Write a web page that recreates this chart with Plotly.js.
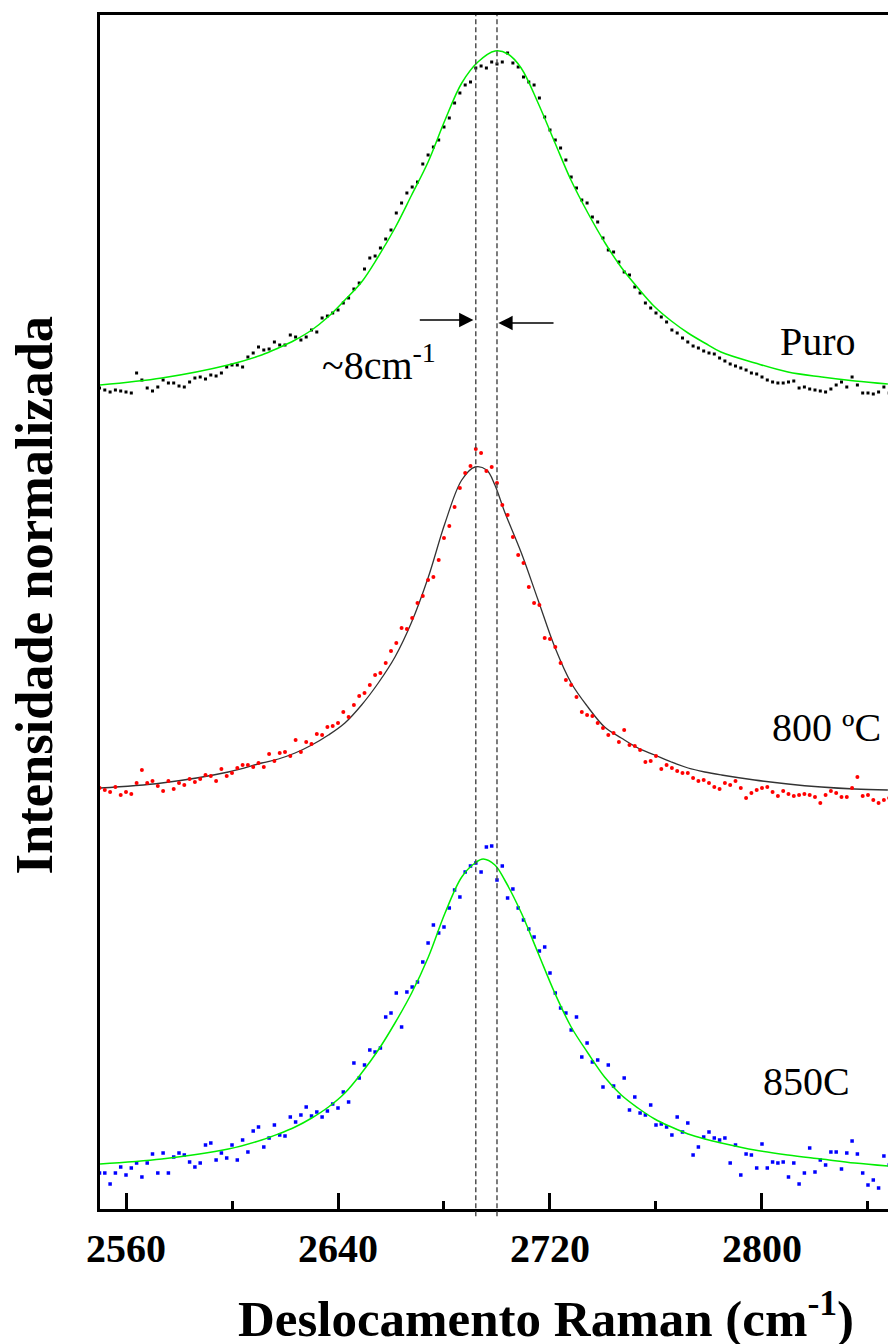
<!DOCTYPE html>
<html>
<head>
<meta charset="utf-8">
<script src="https://cdn.plot.ly/plotly-3.0.1.min.js"></script>
<style>html,body{margin:0;padding:0;background:#fff;}#chart{width:888px;height:1344px;}</style>
</head>
<body>
<div id="chart"></div>
<script>
// Raman shift (cm-1) shared by the three measured spectra
const ramanShift = [
2550,2552,2554,2556,2558,2560,2562,2564,2566,2568,
2570,2572,2574,2576,2578,2580,2582,2584,2586,2588,
2590,2592,2594,2596,2598,2600,2602,2604,2606,2608,
2610,2612,2614,2616,2618,2620,2622,2624,2626,2628,
2630,2632,2634,2636,2638,2640,2642,2644,2646,2648,
2650,2652,2654,2656,2658,2660,2662,2664,2666,2668,
2670,2672,2674,2676,2678,2680,2682,2684,2686,2688,
2690,2692,2694,2696,2698,2700,2702,2704,2706,2708,
2710,2712,2714,2716,2718,2720,2722,2724,2726,2728,
2730,2732,2734,2736,2738,2740,2742,2744,2746,2748,
2750,2752,2754,2756,2758,2760,2762,2764,2766,2768,
2770,2772,2774,2776,2778,2780,2782,2784,2786,2788,
2790,2792,2794,2796,2798,2800,2802,2804,2806,2808,
2810,2812,2814,2816,2818,2820,2822,2824,2826,2828,
2830,2832,2834,2836,2838,2840,2842,2844,2846,2848];

// Normalized intensities (stacked, arbitrary units)
const puroData = [
8.21,8.19,8.17,8.19,8.18,8.17,8.16,8.36,8.29,8.21,
8.18,8.22,8.29,8.26,8.26,8.23,8.22,8.27,8.31,8.32,
8.30,8.34,8.33,8.36,8.42,8.44,8.44,8.42,8.52,8.56,
8.62,8.59,8.60,8.67,8.64,8.64,8.74,8.72,8.69,8.72,
8.79,8.77,8.91,8.93,8.96,8.99,9.06,9.11,9.20,9.26,
9.40,9.51,9.53,9.61,9.70,9.79,9.96,10.06,10.16,10.22,
10.27,10.45,10.54,10.62,10.69,10.82,10.91,11.06,11.16,11.24,
11.27,11.41,11.43,11.41,11.47,11.45,11.47,11.56,11.46,11.42,
11.32,11.27,11.24,11.11,10.92,10.79,10.69,10.61,10.49,10.32,
10.21,10.09,10.06,9.92,9.87,9.71,9.59,9.57,9.47,9.37,
9.34,9.22,9.16,9.06,9.01,8.96,8.92,8.87,8.79,8.76,
8.71,8.67,8.63,8.61,8.58,8.56,8.55,8.51,8.48,8.45,
8.43,8.41,8.39,8.36,8.35,8.32,8.29,8.27,8.26,8.26,
8.27,8.28,8.21,8.22,8.20,8.19,8.18,8.17,8.20,8.24,
8.27,8.22,8.32,8.24,8.16,8.16,8.15,8.17,8.22,8.16];

const t800Data = [
4.21,4.19,4.17,4.22,4.14,4.17,4.15,4.26,4.39,4.26,
4.28,4.23,4.18,4.28,4.20,4.26,4.24,4.30,4.27,4.30,
4.34,4.33,4.28,4.40,4.33,4.36,4.41,4.44,4.44,4.42,
4.46,4.42,4.55,4.48,4.56,4.57,4.53,4.69,4.57,4.67,
4.65,4.75,4.74,4.82,4.83,4.86,4.97,4.92,5.04,5.13,
5.16,5.24,5.34,5.36,5.46,5.58,5.66,5.81,5.80,5.91,
6.06,6.13,6.29,6.32,6.49,6.71,6.83,7.02,7.21,7.36,
7.43,7.60,7.56,7.38,7.42,7.26,7.04,6.94,6.72,6.54,
6.46,6.22,6.06,6.04,5.71,5.70,5.62,5.46,5.29,5.24,
5.12,4.97,4.94,4.93,4.86,4.81,4.74,4.76,4.67,4.79,
4.64,4.63,4.59,4.47,4.48,4.53,4.40,4.44,4.41,4.38,
4.36,4.36,4.31,4.28,4.29,4.26,4.22,4.20,4.26,4.24,
4.28,4.21,4.11,4.16,4.19,4.21,4.22,4.17,4.13,4.18,
4.15,4.13,4.14,4.15,4.14,4.12,4.06,4.14,4.18,4.16,
4.12,4.12,4.21,4.32,4.13,4.14,4.09,4.06,4.09,4.11];

const t850Data = [
0.36,0.36,0.25,0.36,0.42,0.34,0.41,0.46,0.32,0.46,
0.55,0.36,0.56,0.36,0.52,0.56,0.54,0.47,0.42,0.46,
0.64,0.66,0.49,0.56,0.51,0.64,0.49,0.69,0.57,0.78,
0.82,0.62,0.71,0.84,0.74,0.73,0.92,0.87,0.94,1.02,
0.93,0.97,0.92,0.98,1.05,1.01,1.17,1.07,1.46,1.31,
1.44,1.59,1.57,1.61,1.92,1.96,2.16,1.82,2.17,2.22,
2.27,2.47,2.66,2.84,2.76,2.82,3.01,3.19,3.12,3.37,
3.43,3.46,3.37,3.62,3.63,3.29,3.43,3.11,3.20,3.01,
2.89,2.80,2.72,2.58,2.62,2.36,2.16,2.01,1.96,1.79,
1.92,1.52,1.66,1.47,1.49,1.22,1.44,1.23,1.12,1.31,
0.99,1.12,0.96,0.94,1.04,0.84,0.85,0.82,0.74,0.92,
0.77,0.86,0.54,0.62,0.72,0.77,0.71,0.69,0.71,0.46,
0.64,0.34,0.55,0.54,0.41,0.65,0.41,0.47,0.46,0.47,
0.32,0.46,0.25,0.36,0.61,0.37,0.49,0.44,0.57,0.57,
0.40,0.56,0.68,0.55,0.36,0.24,0.29,0.21,0.53,0.44];

// Fitted curves
const puroFitX = [2550.2,2573.5,2598.5,2611.2,2617.5,2623.8,2630.1,2636.2,2642.6,2648.9,2655.1,2661.5,2667.8,2674.0,2680.4,2686.7,2692.8,2699.3,2704.1,2709.1,2715.5,2721.9,2727.9,2734.3,2740.8,2746.8,2753.2,2759.6,2765.8,2772.1,2778.4,2784.5,2797.4,2809.8,2822.6,2835.1,2847.5];
const puroFitY = [8.24,8.31,8.44,8.54,8.61,8.69,8.79,8.92,9.09,9.27,9.52,9.81,10.14,10.47,10.89,11.26,11.47,11.58,11.55,11.41,11.06,10.66,10.29,9.96,9.66,9.42,9.21,9.02,8.88,8.76,8.66,8.57,8.46,8.37,8.32,8.28,8.25];

const t800FitX = [2550.2,2573.5,2598.6,2611.2,2617.5,2623.8,2630.1,2636.4,2642.6,2648.9,2655.2,2661.5,2667.8,2674.1,2680.4,2686.7,2691.7,2696.1,2699.2,2702.9,2709.2,2715.5,2721.8,2728.0,2734.3,2740.6,2746.9,2753.2,2759.5,2765.8,2772.1,2778.4,2784.7,2797.2,2809.8,2822.4,2835.0,2847.5];
const t800FitY = [4.21,4.26,4.37,4.46,4.50,4.56,4.64,4.74,4.86,5.04,5.26,5.52,5.87,6.32,6.86,7.29,7.42,7.39,7.24,6.97,6.56,6.09,5.62,5.26,5.02,4.82,4.71,4.61,4.54,4.47,4.41,4.37,4.34,4.29,4.25,4.22,4.20,4.19];

const t850FitX = [2550.2,2573.5,2598.6,2611.2,2617.5,2623.8,2630.1,2636.4,2642.6,2648.9,2655.2,2661.5,2667.8,2674.1,2680.4,2686.7,2691.7,2694.8,2699.2,2702.9,2709.2,2715.5,2721.8,2728.0,2734.3,2740.6,2746.9,2753.2,2759.5,2765.8,2772.1,2778.4,2784.7,2797.2,2809.8,2822.4,2835.0,2847.5];
const t850FitY = [0.45,0.50,0.60,0.69,0.75,0.82,0.91,1.02,1.16,1.36,1.59,1.86,2.16,2.52,2.96,3.32,3.46,3.50,3.44,3.29,2.96,2.56,2.16,1.82,1.56,1.32,1.14,1.01,0.90,0.82,0.75,0.70,0.66,0.59,0.54,0.50,0.46,0.43];

// Peak positions marked by dashed lines (~8 cm-1 apart)
const peakMarks = [2692, 2700];

const tickVals = [2560, 2640, 2720, 2800];
const tickText = ['2560', '2640', '2720', '2800'];

const serif = 'Liberation Serif, Times New Roman, serif';

const traces = [
  {x: ramanShift, y: puroData, mode: 'markers', type: 'scatter',
   marker: {symbol: 'square', size: 3, color: '#000000'}, name: 'Puro'},
  {x: puroFitX, y: puroFitY, mode: 'lines', type: 'scatter',
   line: {color: '#00ee00', width: 1.5, shape: 'spline', smoothing: 1}, name: 'Puro fit'},
  {x: t800FitX, y: t800FitY, mode: 'lines', type: 'scatter',
   line: {color: '#333333', width: 1.3, shape: 'spline', smoothing: 1}, name: '800 fit'},
  {x: ramanShift, y: t800Data, mode: 'markers', type: 'scatter',
   marker: {symbol: 'circle', size: 4, color: '#ff0000'}, name: '800 ºC'},
  {x: ramanShift, y: t850Data, mode: 'markers', type: 'scatter',
   marker: {symbol: 'square', size: 3.5, color: '#0000ff'}, name: '850C'},
  {x: t850FitX, y: t850FitY, mode: 'lines', type: 'scatter',
   line: {color: '#00ee00', width: 1.5, shape: 'spline', smoothing: 1}, name: '850 fit'}
];

const shapes = peakMarks.map(v => ({
  type: 'line', xref: 'x', yref: 'paper', x0: v, x1: v, y0: -0.006, y1: 1,
  line: {color: '#444444', width: 1.4, dash: '5px,3px'}
}));

const annotations = [
  {xref: 'x', yref: 'y', x: 2691.1, y: 8.89, ax: 2670.3, ay: 8.89, axref: 'x', ayref: 'y',
   showarrow: true, arrowhead: 2, arrowsize: 2.2, arrowwidth: 1.3, arrowcolor: '#000', text: ''},
  {xref: 'x', yref: 'y', x: 2700.5, y: 8.86, ax: 2721.9, ay: 8.86, axref: 'x', ayref: 'y',
   showarrow: true, arrowhead: 2, arrowsize: 2.2, arrowwidth: 1.3, arrowcolor: '#000', text: ''},
  {xref: 'x', yref: 'y', x: 2633.2, y: 8.47, xanchor: 'left', yanchor: 'middle', showarrow: false,
   text: '~8cm<sup>-1</sup>', font: {family: serif, size: 40, color: '#000'}},
  {xref: 'x', yref: 'y', x: 2821.3, y: 8.68, xanchor: 'center', yanchor: 'middle', showarrow: false,
   text: 'Puro', font: {family: serif, size: 40, color: '#000'}},
  {xref: 'x', yref: 'y', x: 2824.2, y: 4.82, xanchor: 'center', yanchor: 'middle', showarrow: false,
   text: '800 ºC', font: {family: serif, size: 40, color: '#000'}},
  {xref: 'x', yref: 'y', x: 2816.7, y: 1.28, xanchor: 'center', yanchor: 'middle', showarrow: false,
   text: '850C', font: {family: serif, size: 40, color: '#000'}},
  {xref: 'paper', yref: 'paper', x: 0.566, y: -0.0885, xanchor: 'center', yanchor: 'middle', showarrow: false,
   text: 'Deslocamento Raman (cm<sup>-1</sup>)', font: {family: serif, size: 51, color: '#000', weight: 'bold'}},
  {xref: 'paper', yref: 'paper', x: -0.0835, y: 0.514, xanchor: 'center', yanchor: 'middle', showarrow: false,
   textangle: -90, text: 'Intensidade normalizada', font: {family: serif, size: 52.5, color: '#000', weight: 'bold'}}
];

const layout = {
  width: 888, height: 1344,
  margin: {l: 100, r: 0, t: 15, b: 135},
  paper_bgcolor: '#ffffff', plot_bgcolor: '#ffffff',
  showlegend: false,
  xaxis: {
    range: [2550.19, 2847.55], tickmode: 'array', tickvals: tickVals, ticktext: tickText,
    ticks: 'inside', ticklen: 16, tickwidth: 3, tickcolor: '#000',
    showline: true, linewidth: 3, linecolor: '#000', mirror: true,
    showgrid: false, zeroline: false,
    ticklabelstandoff: 2,
    tickfont: {family: serif, size: 40, color: '#000', weight: 'bold'},
    minor: {ticks: 'inside', ticklen: 8, tickwidth: 3, tickcolor: '#000', tick0: 2560, dtick: 40, showgrid: false}
  },
  yaxis: {
    range: [0, 11.94], showline: true, linewidth: 3, linecolor: '#000', mirror: false,
    showticklabels: false, ticks: '', showgrid: false, zeroline: false
  },
  shapes: shapes,
  annotations: annotations
};

Plotly.newPlot('chart', traces, layout, {displayModeBar: false, staticPlot: true});
</script>
</body>
</html>
